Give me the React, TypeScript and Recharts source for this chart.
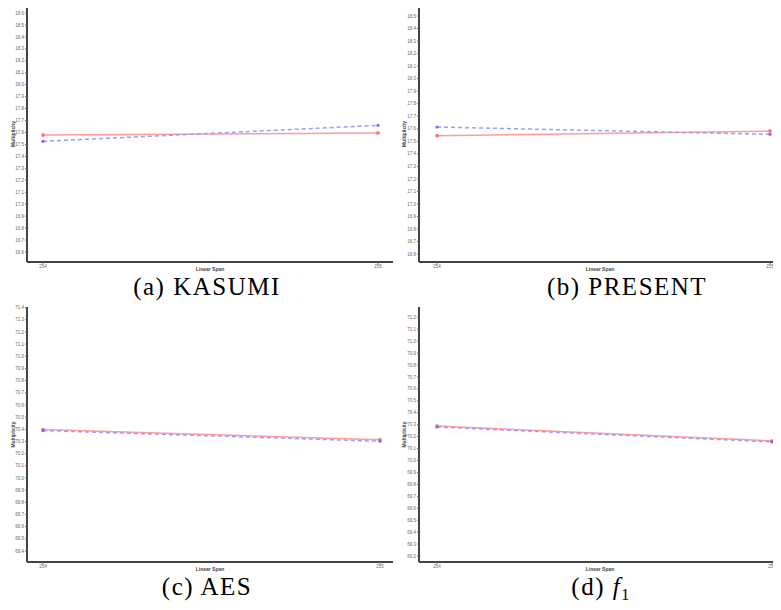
import React from "react";
import { LineChart, Line, XAxis, YAxis } from "recharts";

const spans = ["254", "255"];

const kasumiRed = [17.579, 17.596];
const kasumiBlue = [17.526, 17.66];
const presentRed = [17.545, 17.582];
const presentBlue = [17.614, 17.556];
const aesRed = [70.398, 70.314];
const aesBlue = [70.39, 70.302];
const f1Red = [70.289, 70.164];
const f1Blue = [70.281, 70.156];

const kasumiTicks = [
  16.6, 16.7, 16.8, 16.9, 17.0, 17.1, 17.2, 17.3, 17.4, 17.5, 17.6, 17.7, 17.8,
  17.9, 18.0, 18.1, 18.2, 18.3, 18.4, 18.5, 18.6,
];
const presentTicks = [
  16.6, 16.7, 16.8, 16.9, 17.0, 17.1, 17.2, 17.3, 17.4, 17.5, 17.6, 17.7, 17.8,
  17.9, 18.0, 18.1, 18.2, 18.3, 18.4, 18.5,
];
const aesTicks = [
  69.4, 69.5, 69.6, 69.7, 69.8, 69.9, 70.0, 70.1, 70.2, 70.3, 70.4, 70.5, 70.6,
  70.7, 70.8, 70.9, 71.0, 71.1, 71.2, 71.3, 71.4,
];
const f1Ticks = [
  69.2, 69.3, 69.4, 69.5, 69.6, 69.7, 69.8, 69.9, 70.0, 70.1, 70.2, 70.3, 70.4,
  70.5, 70.6, 70.7, 70.8, 70.9, 71.0, 71.1, 71.2,
];

const toRows = (red: number[], blue: number[]) =>
  spans.map((span, i) => ({ span, red: red[i], blue: blue[i] }));

const SquareDot = (props: any) => {
  const { cx, cy, index } = props;
  if (cx == null || cy == null) return null;
  return (
    <rect key={`sq-${index}`} x={cx - 1.6} y={cy - 1.6} width={3.2} height={3.2} fill="#ff6d6d" />
  );
};

const BlueDot = (props: any) => {
  const { cx, cy, index } = props;
  if (cx == null || cy == null) return null;
  return <circle key={`ci-${index}`} cx={cx} cy={cy} r={1.6} fill="#6f6fff" />;
};

interface PanelProps {
  left: number;
  top: number;
  width: number;
  yWidth: number;
  red: number[];
  blue: number[];
  domain: [number, number];
  ticks: number[];
  pad: { left: number; right: number };
  marginTop: number;
}

function Panel({ left, top, width, yWidth, red, blue, domain, ticks, pad, marginTop }: PanelProps) {
  const tickStyle = { fontSize: 4.5, fill: "#666", fontFamily: "Liberation Sans, Arial, sans-serif" };
  const labelStyle = {
    fontSize: 5,
    fontWeight: 700,
    fill: "#444",
    fontFamily: "Liberation Sans, Arial, sans-serif",
  };
  return (
    <div style={{ position: "absolute", left, top }}>
      <LineChart
        width={width}
        height={300}
        data={toRows(red, blue)}
        margin={{ top: marginTop, right: 0, left: 0, bottom: 18 }}
      >
        <XAxis
          xAxisId="top"
          orientation="top"
          dataKey="span"
          height={0}
          tick={false}
          tickLine={false}
          axisLine={{ stroke: "#222", strokeWidth: 1 }}
        />
        <XAxis
          dataKey="span"
          padding={pad}
          height={20}
          tickSize={2}
          tickMargin={1}
          tick={tickStyle}
          tickLine={{ stroke: "#666" }}
          axisLine={{ stroke: "#444", strokeWidth: 2 }}
          label={{ value: "Linear Span", position: "center", dy: -3, style: labelStyle }}
        />
        <YAxis
          type="number"
          domain={domain}
          ticks={ticks}
          interval={0}
          allowDataOverflow
          width={yWidth}
          tickSize={2}
          tickMargin={1}
          tick={tickStyle}
          tickLine={{ stroke: "#666" }}
          axisLine={{ stroke: "#444", strokeWidth: 2 }}
          tickFormatter={(v: number) => v.toFixed(1)}
          label={{ value: "Multiplicity", angle: -90, position: "center", dx: 0, style: labelStyle }}
        />
        <Line
          type="linear"
          dataKey="red"
          stroke="#ff9c9c"
          strokeWidth={1.5}
          dot={SquareDot}
          activeDot={false}
          isAnimationActive={false}
        />
        <Line
          type="linear"
          dataKey="blue"
          stroke="#9c9cff"
          strokeWidth={1.5}
          strokeDasharray="4 3"
          dot={BlueDot}
          activeDot={false}
          isAnimationActive={false}
        />
      </LineChart>
    </div>
  );
}

const captionStyle: React.CSSProperties = {
  position: "absolute",
  fontFamily: "Liberation Serif, Times New Roman, serif",
  fontSize: 25,
  lineHeight: "20px",
  letterSpacing: 1.5,
  whiteSpace: "nowrap",
  transform: "translateX(-50%)",
  color: "#000",
};

export default function App() {
  return (
    <div style={{ position: "relative", width: 781, height: 610, margin: -8, overflow: "hidden", background: "#fff" }}>
      <Panel
        left={0}
        top={0}
        width={393}
        yWidth={27}
        red={kasumiRed}
        blue={kasumiBlue}
        domain={[16.516, 18.659]}
        ticks={kasumiTicks}
        pad={{ left: 16, right: 15 }}
        marginTop={6}
      />
      <Panel
        left={390}
        top={0}
        width={391}
        yWidth={29}
        red={presentRed}
        blue={presentBlue}
        domain={[16.537, 18.58]}
        ticks={presentTicks}
        pad={{ left: 18, right: 11 }}
        marginTop={6}
      />
      <Panel
        left={0}
        top={300}
        width={393}
        yWidth={27}
        red={aesRed}
        blue={aesBlue}
        domain={[69.31, 71.405]}
        ticks={aesTicks}
        pad={{ left: 16, right: 13 }}
        marginTop={7}
      />
      <Panel
        left={390}
        top={300}
        width={391}
        yWidth={29}
        red={f1Red}
        blue={f1Blue}
        domain={[69.15, 71.286]}
        ticks={f1Ticks}
        pad={{ left: 18, right: 9 }}
        marginTop={7}
      />
      <div style={{ ...captionStyle, left: 207, top: 277 }}>(a) KASUMI</div>
      <div style={{ ...captionStyle, left: 627, top: 277 }}>(b) PRESENT</div>
      <div style={{ ...captionStyle, left: 207, top: 577 }}>(c) AES</div>
      <div style={{ ...captionStyle, left: 601, top: 577 }}>
        (d) <i>f</i>
        <sub style={{ fontSize: 16, verticalAlign: "baseline", position: "relative", top: 5 }}>1</sub>
      </div>
    </div>
  );
}
